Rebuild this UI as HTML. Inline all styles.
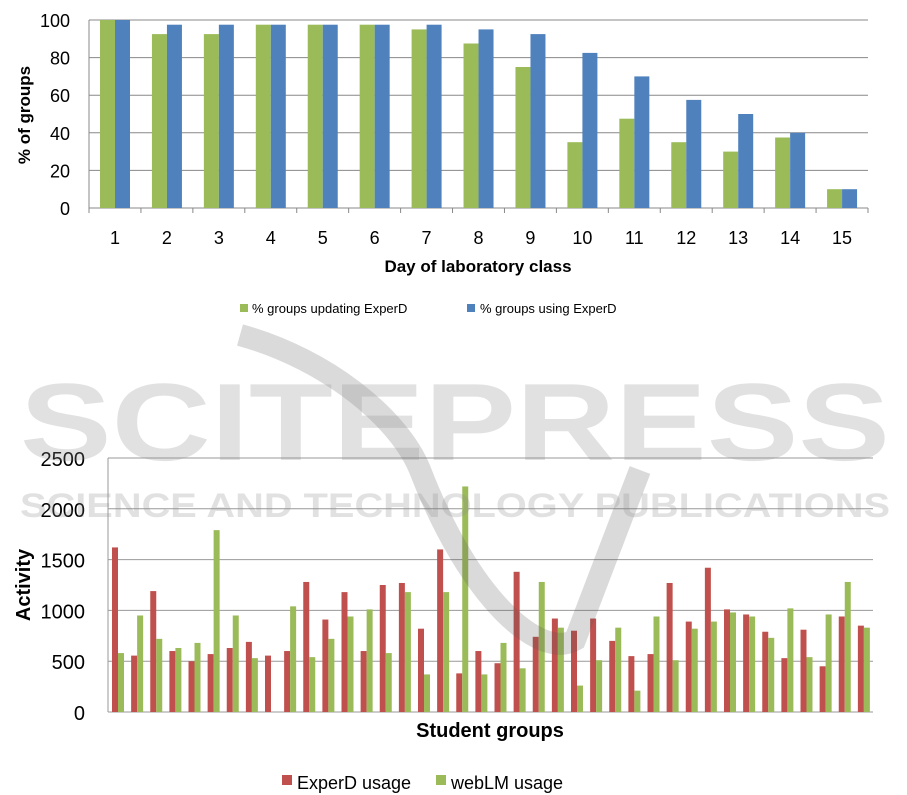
<!DOCTYPE html>
<html><head><meta charset="utf-8"><style>
html,body{margin:0;padding:0;background:#fff;}
svg{display:block;font-family:"Liberation Sans",Calibri,sans-serif;}
</style></head><body>
<svg id="s" width="907" height="795" viewBox="0 0 907 795" xmlns="http://www.w3.org/2000/svg">
<g id="topc"></g>
<g id="botc"></g>
<g fill="#000">
<text transform="rotate(-90 24 115)" x="24" y="121" font-size="17" font-weight="bold" text-anchor="middle">% of groups</text>
<text x="478" y="272" font-size="17" font-weight="bold" text-anchor="middle">Day of laboratory class</text>
<rect x="240" y="304" width="8" height="8" fill="#9bbb59"/>
<text x="252" y="313" font-size="13">% groups updating ExperD</text>
<rect x="467" y="304" width="8" height="8" fill="#4f81bd"/>
<text x="480" y="313" font-size="13">% groups using ExperD</text>
<text transform="rotate(-90 24 585)" x="24" y="591" font-size="20" font-weight="bold" text-anchor="middle">Activity</text>
<text x="490" y="737" font-size="20" font-weight="bold" text-anchor="middle">Student groups</text>
<rect x="282" y="775" width="10" height="10" fill="#c0504d"/>
<text x="297" y="789" font-size="18">ExperD usage</text>
<rect x="436" y="775" width="10" height="10" fill="#9bbb59"/>
<text x="451" y="789" font-size="18">webLM usage</text>
</g>
<g opacity="0.22">
<path d="M240,335 C330,360 400,420 420,470 C470,600 540,660 575,640 L640,470" fill="none" stroke="#555" stroke-width="22"/>
</g>
<g fill="#8c8c8c" opacity="0.25" font-weight="bold">
<text x="20" y="460" font-size="110" textLength="870" lengthAdjust="spacingAndGlyphs">SCITEPRESS</text>
<text x="20" y="517" font-size="34" textLength="870" lengthAdjust="spacingAndGlyphs">SCIENCE AND TECHNOLOGY PUBLICATIONS</text>
</g>
</svg>
<script>
(function(){
var NS="http://www.w3.org/2000/svg";
function el(p,t,a,txt){var e=document.createElementNS(NS,t);for(var k in a)e.setAttribute(k,a[k]);if(txt!==undefined)e.textContent=txt;p.appendChild(e);return e;}
var tp=document.getElementById("topc");
var g=[100,92.5,92.5,97.5,97.5,97.5,95,87.5,75,35,47.5,35,30,37.5,10];
var b=[100,97.5,97.5,97.5,97.5,97.5,97.5,95,92.5,82.5,70,57.5,50,40,10];
var x0=89,x1=868,y0=208,y1=20,gw=(x1-x0)/15;
for(var i=0;i<=5;i++){var y=y0-(y0-y1)*i/5;
 if(i>0)el(tp,"line",{x1:x0,x2:x1,y1:y,y2:y,stroke:"#888","stroke-width":1});
 el(tp,"text",{x:70,y:y+7,"font-size":18,"text-anchor":"end"},String(i*20));}
el(tp,"line",{x1:x0,x2:x0,y1:y1,y2:y0,stroke:"#888"});
el(tp,"line",{x1:x0,x2:x1,y1:y0,y2:y0,stroke:"#888"});
for(var i=0;i<15;i++){var gx=x0+gw*i;
 el(tp,"line",{x1:gx,x2:gx,y1:y0,y2:y0+5,stroke:"#888"});
 el(tp,"rect",{x:gx+11,y:y0-g[i]*1.88,width:15,height:g[i]*1.88,fill:"#9bbb59"});
 el(tp,"rect",{x:gx+26,y:y0-b[i]*1.88,width:15,height:b[i]*1.88,fill:"#4f81bd"});
 el(tp,"text",{x:gx+gw/2,y:244,"font-size":18,"text-anchor":"middle"},String(i+1));}
el(tp,"line",{x1:x1,x2:x1,y1:y0,y2:y0+5,stroke:"#888"});
var bt=document.getElementById("botc");
var r=[1620,555,1190,600,500,570,630,690,555,600,1280,910,1180,600,1250,1270,820,1600,380,600,480,1380,740,920,800,920,700,550,570,1270,890,1420,1010,960,790,530,810,450,940,850];
var w=[580,950,720,630,680,1790,950,530,0,1040,540,720,940,1010,580,1180,370,1180,2220,370,680,430,1280,830,260,510,830,210,940,510,820,890,980,940,730,1020,540,960,1280,830];
var X0=108,X1=873,Y0=712,Y1=458,GW=(X1-X0)/40,sc=(Y0-Y1)/2500;
for(var i=0;i<=5;i++){var y=Y0-(Y0-Y1)*i/5;
 el(bt,"line",{x1:X0,x2:X1,y1:y,y2:y,stroke:"#999","stroke-width":1});
 el(bt,"text",{x:85,y:y+8,"font-size":20,"text-anchor":"end"},String(i*500));}
el(bt,"line",{x1:X0,x2:X0,y1:Y1,y2:Y0,stroke:"#999"});
for(var i=0;i<40;i++){var gx=X0+GW*i;
 el(bt,"rect",{x:gx+4,y:Y0-r[i]*sc,width:6,height:r[i]*sc,fill:"#c0504d"});
 if(w[i]>0)el(bt,"rect",{x:gx+10,y:Y0-w[i]*sc,width:6,height:w[i]*sc,fill:"#9bbb59"});}
})();
</script>
</body></html>
